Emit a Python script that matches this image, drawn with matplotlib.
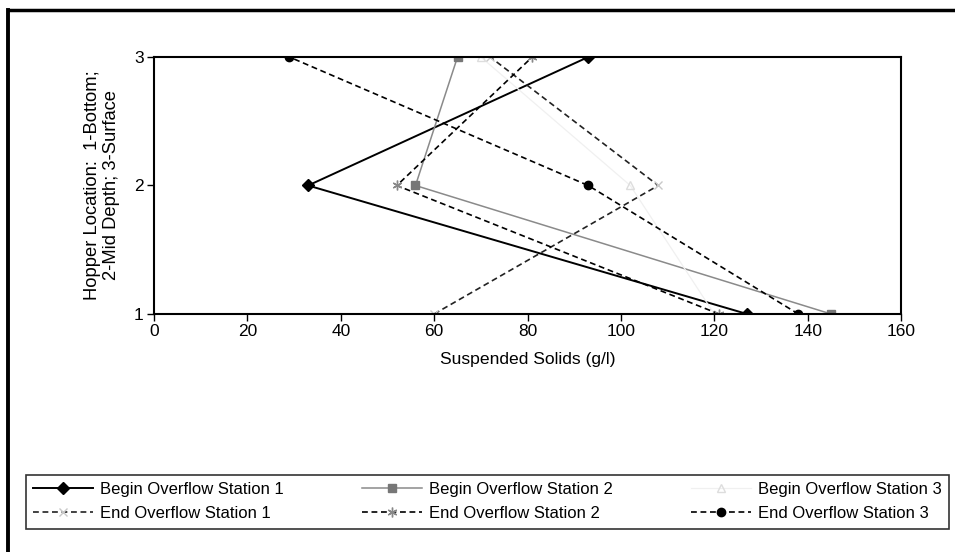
import numpy as np
import matplotlib
matplotlib.use("Agg")
import matplotlib.pyplot as plt
from matplotlib.lines import Line2D

plt.rcParams['font.family'] = ['Liberation Sans', 'DejaVu Sans']

# data
depth = [1, 2, 3]
begin_st1 = [127, 33, 93]
begin_st2 = [145, 56, 65]
begin_st3 = [120, 102, 70]
end_st1 = [60, 108, 72]
end_st2 = [121, 52, 81]
end_st3 = [138, 93, 29]

x_ticks = [0, 20, 40, 60, 80, 100, 120, 140, 160]
y_ticks = [1, 2, 3]

fig = plt.figure(figsize=(9.55, 5.52), dpi=100)
ax = fig.add_axes([0.1613, 0.4312, 0.7822, 0.4655])

dash = (0, (3.5, 2.2))
h1, = ax.plot(begin_st1, depth, color='black', lw=1.4, marker='D', ms=6,
              label='Begin Overflow Station 1')
h2, = ax.plot(begin_st2, depth, color='#8a8a8a', lw=1.1, marker='s', ms=6,
              mfc='#777777', mec='#777777', label='Begin Overflow Station 2')
h3, = ax.plot(begin_st3, depth, color='#f0f0f0', lw=0.9, marker='^', ms=6,
              mfc='none', mec='#dddddd', label='Begin Overflow Station 3')
h4, = ax.plot(end_st1, depth, color='#222222', lw=1.2, ls=dash, marker='x',
              ms=6, mec='#c8c8c8', label='End Overflow Station 1')
h5, = ax.plot(end_st2, depth, color='black', lw=1.2, ls=dash, marker=(6, 2, 0),
              ms=7, mec='#888888', label='End Overflow Station 2')
h6, = ax.plot(end_st3, depth, color='black', lw=1.2, ls=dash, marker='o',
              ms=6, label='End Overflow Station 3')

ax.set_xlim(0, 160)
ax.set_ylim(1, 3)
ax.set_xticks(x_ticks)
ax.set_yticks(y_ticks)
ax.tick_params(direction='out', length=5, width=1, labelsize=12.5, pad=2.5)
for s in ax.spines.values():
    s.set_linewidth(1.5)
ax.set_xlabel('Suspended Solids (g/l)', fontsize=12.6, labelpad=9)
ax.set_ylabel('Hopper Location:  1-Bottom;\n2-Mid Depth; 3-Surface',
              fontsize=13.2, labelpad=10, linespacing=1.15)

# legend ordered so rows read Begin / End
handles = [h1, h4, h2, h5, h3, h6]
leg = fig.legend(handles=handles, loc='lower left', ncol=3, mode='expand',
                 bbox_to_anchor=(0.027, 0.042, 0.967, 0.134),
                 fontsize=12, handlelength=3.6, frameon=True, fancybox=False,
                 edgecolor='black', borderaxespad=0, labelspacing=0.55,
                 handletextpad=0.4, borderpad=0.45)
leg.get_frame().set_linewidth(1.2)

# outer chart border (top and left only visible)
fig.add_artist(Line2D([0.009, 1.0], [1 - 10 / 552, 1 - 10 / 552],
                      transform=fig.transFigure, color='black', lw=2.5))
fig.add_artist(Line2D([0.0085, 0.0085], [0.0, 1 - 10 / 552],
                      transform=fig.transFigure, color='black', lw=2.8))

fig.savefig('out.png', dpi=100)
plt.close()
